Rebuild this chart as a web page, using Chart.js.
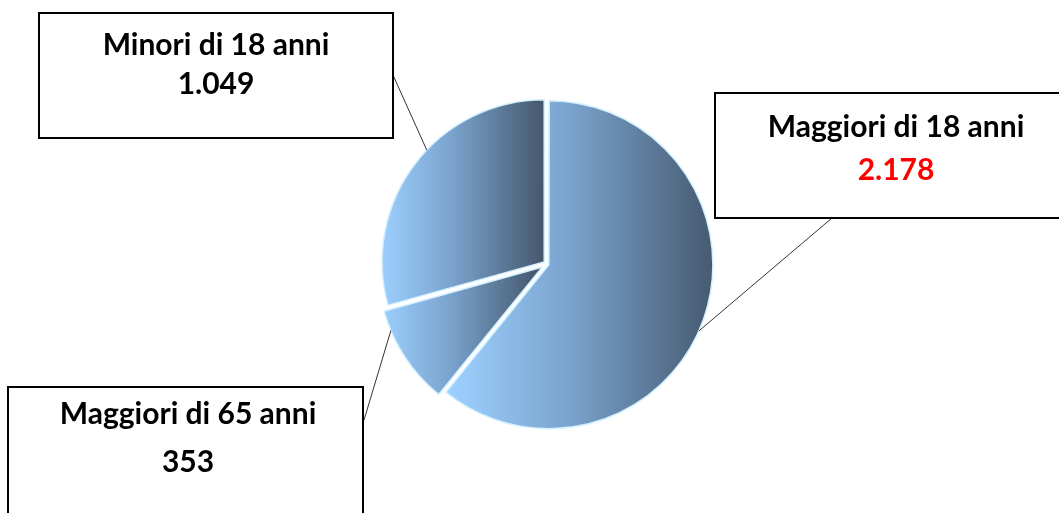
<!DOCTYPE html>
<html>
<head>
<meta charset="utf-8">
<script src="https://cdn.jsdelivr.net/npm/chart.js@4/dist/chart.umd.min.js"></script>
<style>
  html, body { margin: 0; padding: 0; background: #ffffff; overflow: hidden; }
  #wrap { width: 1059px; height: 513px; position: relative; }
</style>
</head>
<body>
<div id="wrap"><canvas id="c" width="1059" height="513"></canvas></div>
<script>
// Slice categories and counts
const categories = ['Maggiori di 18 anni', 'Maggiori di 65 anni', 'Minori di 18 anni'];
const values = [2178, 353, 1049];
const valueColors = ['#ff0000', '#000000', '#000000'];

// Italian thousands separator (1.049, 2.178)
function fmt(n) {
  return String(n).replace(/\B(?=(\d{3})+(?!\d))/g, '.');
}

// Callout boxes: box rectangle, text centre and baselines, leader-line start,
// and where along the slice's outer arc the leader line lands (0..1)
const callouts = [
  { box: [715, 93, 365, 125], cx: 896, base: [137, 180], from: [832, 218], along: 0.52 },
  { box: [8, 387, 355, 140], cx: 188, base: [424, 472], from: [364, 420], along: 0.80 },
  { box: [39, 13, 354, 125], cx: 216, base: [55, 94], from: [393, 75], along: 0.56 }
];

// Shifted centre of an exploded arc, following Chart.js arc drawing
function arcCentre(arc) {
  const off = (arc.options.offset || 0) / 4;
  const half = (arc.startAngle + arc.endAngle) / 2;
  const circ = arc.endAngle - arc.startAngle;
  const fix = 1 - Math.sin(Math.min(Math.PI, circ));
  const d = off + off * fix;
  return { x: arc.x + Math.cos(half) * d, y: arc.y + Math.sin(half) * d };
}

// Horizontal light-to-dark gradient across each slice's own width
const sliceGradient = {
  id: 'sliceGradient',
  beforeDatasetsDraw(chart) {
    const ctx = chart.ctx;
    const meta = chart.getDatasetMeta(0);
    meta.data.forEach((arc) => {
      const c = arcCentre(arc);
      const R = arc.outerRadius;
      const s = arc.startAngle, e = arc.endAngle;
      const xs = [c.x, c.x + R * Math.cos(s), c.x + R * Math.cos(e)];
      for (let k = -4; k <= 4; k++) {
        const a = k * Math.PI;
        if (a > s && a < e) xs.push(c.x + R * Math.cos(a));
      }
      const x0 = Math.min(...xs), x1 = Math.max(...xs);
      const g = ctx.createLinearGradient(x0, 0, x1, 0);
      g.addColorStop(0, '#9dd0ff');
      g.addColorStop(0.45, '#7aa3cd');
      g.addColorStop(1, '#46596f');
      arc.options = Object.assign({}, arc.options, { backgroundColor: g });
    });
  }
};

// Boxed labels with leader lines to the slices
const calloutPlugin = {
  id: 'callouts',
  afterDatasetsDraw(chart) {
    const ctx = chart.ctx;
    const meta = chart.getDatasetMeta(0);
    ctx.save();
    meta.data.forEach((arc, i) => {
      const co = callouts[i];
      const c = arcCentre(arc);
      const a = arc.startAngle + co.along * (arc.endAngle - arc.startAngle);
      const px = c.x + arc.outerRadius * Math.cos(a);
      const py = c.y + arc.outerRadius * Math.sin(a);
      ctx.strokeStyle = '#333333';
      ctx.lineWidth = 1;
      ctx.beginPath();
      ctx.moveTo(co.from[0], co.from[1]);
      ctx.lineTo(px, py);
      ctx.stroke();
    });
    meta.data.forEach((arc, i) => {
      const co = callouts[i];
      const [bx, by, bw, bh] = co.box;
      ctx.fillStyle = '#ffffff';
      ctx.fillRect(bx, by, bw, bh);
      ctx.strokeStyle = '#000000';
      ctx.lineWidth = 2;
      ctx.strokeRect(bx, by, bw, bh);
      ctx.textAlign = 'center';
      ctx.textBaseline = 'alphabetic';
      ctx.font = 'bold 30px Lato';
      ctx.fillStyle = '#000000';
      ctx.fillText(categories[i], co.cx, co.base[0]);
      ctx.fillStyle = valueColors[i];
      ctx.fillText(fmt(values[i]), co.cx, co.base[1]);
    });
    ctx.restore();
  }
};

new Chart(document.getElementById('c'), {
  type: 'pie',
  data: {
    labels: categories,
    datasets: [{
      data: values,
      backgroundColor: ['#7aa3cd', '#7aa3cd', '#7aa3cd'],
      borderColor: '#d2f0ff',
      borderWidth: 1.5,
      offset: [8, 22, 14]
    }]
  },
  options: {
    responsive: false,
    animation: false,
    radius: 162,
    layout: { padding: { left: 35, right: 0, top: 15, bottom: 0 } },
    events: [],
    plugins: {
      legend: { display: false },
      tooltip: { enabled: false }
    }
  },
  plugins: [sliceGradient, calloutPlugin]
});
</script>
</body>
</html>
